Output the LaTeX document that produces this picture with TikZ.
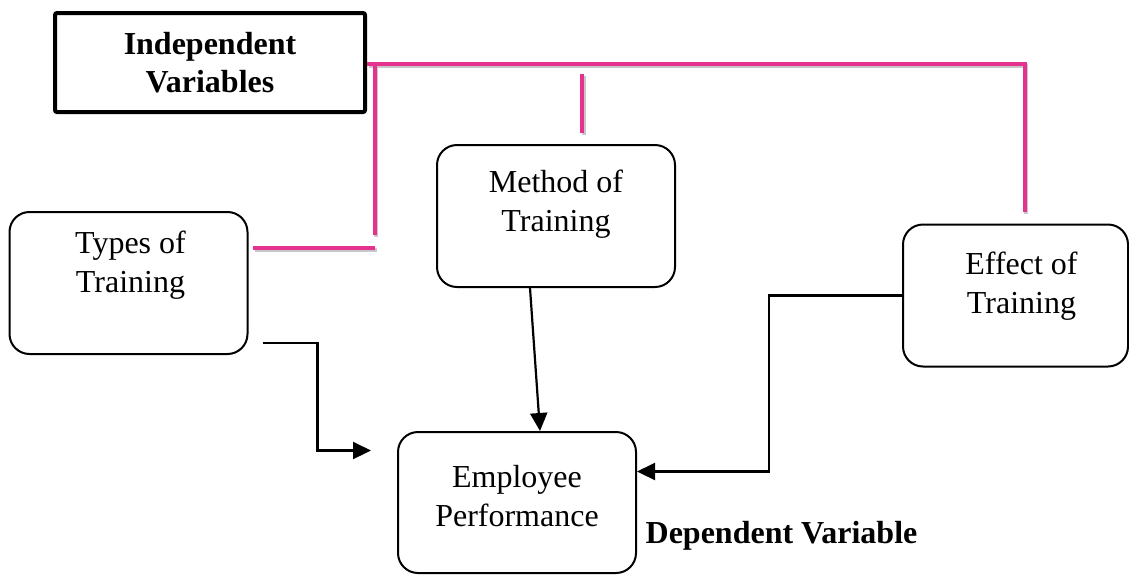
\documentclass[tikz,border=0pt]{standalone}
\usepackage{fontspec}
\setmainfont{Liberation Serif}
\usetikzlibrary{positioning,arrows.meta}
\definecolor{barpink}{RGB}{228,50,142}
\tikzset{
  varbox/.style={draw, line width=1pt, rounded corners=10pt, minimum width=119pt, minimum height=71pt},
  vartext/.style={anchor=north, align=center, inner sep=0pt, font=\fontsize{16}{19.5}\selectfont},
  pinkbar/.style={draw=barpink, line width=2pt,
    preaction={draw=black!22, line width=2pt, transform canvas={shift={(0.8pt,-0.9pt)}}}},
  flow/.style={draw, line width=1.1pt, -{Triangle[length=9pt,width=8.5pt]}}
}
\begin{document}
\begin{tikzpicture}[x=0.5pt, y=-0.5pt]
  \useasboundingbox (0,0) rectangle (1129,575);
  % boxes
  \node[draw, line width=2pt, rounded corners=1pt, minimum width=155pt, minimum height=49.5pt,
    align=center, font=\bfseries\fontsize{16}{19}\selectfont] (indep) at (210,62.5) {Independent\\Variables};
  \node[varbox] (typesbox) at (128.5,283) {};
  \node[vartext, below=10pt of typesbox.north, xshift=1pt] (typestext) {Types of\\Training};
  \node[varbox] (methodbox) at (556,216) {};
  \node[vartext, below=13pt of methodbox.north] (methodtext) {Method of\\Training};
  \node[varbox, minimum width=112.5pt] (effectbox) at (1015.5,295.5) {};
  \node[vartext, below=14pt of effectbox.north, xshift=3pt] (effecttext) {Effect of\\Training};
  \node[varbox, minimum height=70.5pt] (empbox) at (517,502.5) {};
  \node[vartext, below=17pt of empbox.north] (emptext) {Employee\\Performance};
  \node[anchor=base, inner sep=0pt, font=\bfseries\fontsize{16}{19}\selectfont] (deplabel) at (781.5,543) {Dependent Variable};
  % pink bars
  \draw[pinkbar] ([yshift=-0.75pt]indep.east) -- (1024.5,64) -- (1024.5,212);
  \draw[pinkbar] (374.5,66) -- (374.5,235);
  \draw[pinkbar] (253,248) -- (375,248);
  \draw[pinkbar] (582,74) -- (582,133);
  % arrows
  \draw[flow] ([xshift=7pt,yshift=6pt]typesbox.south east) -- ++(27.5pt,0) |- ([xshift=-13pt,yshift=26pt]empbox.west);
  \draw[flow] ([xshift=-13pt]methodbox.south) -- ([xshift=11.5pt]empbox.north);
  \draw[flow] (effectbox.west) -- ++(-66.5pt,0) |- ([yshift=15.5pt]empbox.east);
\end{tikzpicture}
\end{document}
